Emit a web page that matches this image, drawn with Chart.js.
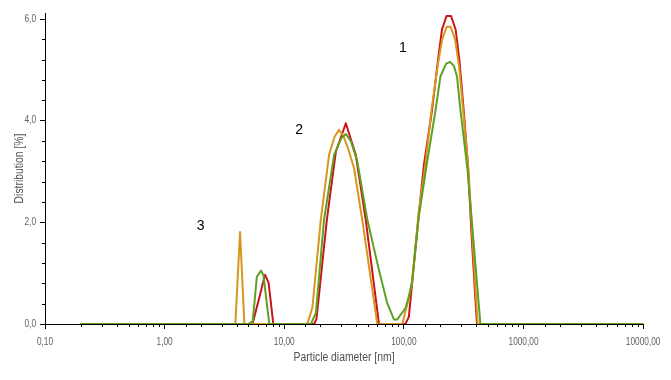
<!DOCTYPE html>
<html>
<head>
<meta charset="utf-8">
<script src="https://cdn.jsdelivr.net/npm/chart.js@4.4.1/dist/chart.umd.min.js"></script>
<style>
  html, body { margin: 0; padding: 0; background: #ffffff; }
  #wrap { width: 671px; height: 380px; }
</style>
</head>
<body>
<div id="wrap"><canvas id="c" width="671" height="380"></canvas></div>
<script>
// ---- Data ----
// Particle diameters [nm] and distribution [%] for each measurement
const diametersGreen = [0.2, 5.0, 5.45, 5.9, 6.4, 6.7, 7.5, 16.7, 18.4, 21.5, 26.1, 30.0, 32.7, 36.0, 40.8, 49.5, 61.9, 72.6, 82.5, 88.0, 103, 110, 117, 133, 155, 184, 202, 225, 242, 262, 278, 297, 340, 436, 10000];
const distributionGreen = [0, 0, 0.05, 0.93, 1.05, 0.96, 0, 0, 0.22, 2.05, 3.33, 3.66, 3.74, 3.60, 3.20, 2.05, 1.06, 0.41, 0.09, 0.09, 0.31, 0.54, 0.83, 2.10, 3.13, 4.21, 4.87, 5.12, 5.16, 5.08, 4.87, 4.21, 3.05, 0, 0];

const diametersOrange = [0.2, 3.9, 4.27, 4.64, 15.6, 17.2, 20.2, 23.7, 26.3, 28.7, 31.2, 34.2, 38.3, 44.9, 59.9, 97, 103, 110, 117, 133, 151, 171, 192, 209, 228, 246, 268, 290, 316, 345, 376, 414, 10000];
const distributionOrange = [0, 0, 1.81, 0, 0, 0.33, 2.05, 3.33, 3.68, 3.82, 3.70, 3.45, 3.07, 2.05, 0, 0, 0.25, 0.50, 0.83, 2.20, 3.13, 4.25, 5.10, 5.60, 5.85, 5.85, 5.60, 5.05, 4.10, 3.10, 1.60, 0, 0];

const diametersRed = [0.2, 5.0, 5.45, 6.16, 6.9, 7.4, 8.1, 17.8, 18.6, 22.7, 27.0, 32.7, 39.6, 48.0, 61.9, 103, 110, 121, 133, 147, 172, 193, 208, 227, 248, 271, 291, 316, 343, 370, 408, 10000];
const distributionRed = [0, 0, 0.02, 0.50, 0.97, 0.81, 0, 0, 0.10, 2.05, 3.39, 3.95, 3.33, 2.05, 0, 0, 0.14, 1.14, 2.13, 3.13, 4.21, 5.20, 5.79, 6.06, 6.06, 5.79, 5.20, 4.21, 3.13, 1.65, 0, 0];

const seriesNames = ['Measurement A', 'Measurement B', 'Measurement C'];
const xTickDecades = [0.1, 1, 10, 100, 1000, 10000];
const yTickValues = [0, 0.4, 0.8, 1.2, 1.6, 2.0, 2.4, 2.8, 3.2, 3.6, 4.0, 4.4, 4.8, 5.2, 5.6, 6.0];
const yTickLabelsAt = [0, 2, 4, 6];
const peakLabelText = ['1', '2', '3'];
const peakLabelDiameter = [98, 13.3, 2.0];
const peakLabelDistribution = [5.43, 3.82, 1.93];

// ---- Build ----
function pts(xs, ys) { return xs.map((x, i) => ({ x: x, y: ys[i] })); }
const isDecade = v => xTickDecades.some(d => Math.abs(v - d) / d < 1e-6);
const isYMajor = v => yTickLabelsAt.some(d => Math.abs(v - d) < 1e-6);
const FONT = "'Liberation Sans', Arial, sans-serif";
const CONDENSE = 0.83;

// Axis text in the reference is horizontally condensed; draw it narrower.
const condensedText = {
  id: 'condensedText',
  beforeDraw(chart) {
    const ctx = chart.ctx;
    if (ctx.__condensed) return;
    const orig = ctx.fillText.bind(ctx);
    ctx.fillText = function (text, x, y, maxWidth) {
      if (this.__plain) return orig(text, x, y);
      this.save();
      this.translate(x, y);
      this.scale(CONDENSE, 1);
      orig(text, 0, 0);
      this.restore();
    };
    ctx.__condensed = true;
  }
};

const minorTicks = {
  id: 'minorTicks',
  afterDraw(chart) {
    const ctx = chart.ctx;
    const xs = chart.scales.x, ys = chart.scales.y;
    ctx.save();
    ctx.strokeStyle = '#000';
    ctx.lineWidth = 1;
    ctx.beginPath();
    xs.ticks.forEach(t => {
      if (isDecade(t.value)) return;
      const px = Math.round(xs.getPixelForValue(t.value)) + 0.5;
      ctx.moveTo(px, xs.top);
      ctx.lineTo(px, xs.top + 3);
    });
    ys.ticks.forEach(t => {
      if (isYMajor(t.value)) return;
      const py = Math.round(ys.getPixelForValue(t.value)) + 0.5;
      ctx.moveTo(ys.right - 3, py);
      ctx.lineTo(ys.right, py);
    });
    ctx.stroke();
    ctx.restore();
  }
};

const peakLabels = {
  id: 'peakLabels',
  afterDatasetsDraw(chart) {
    const ctx = chart.ctx;
    const xs = chart.scales.x, ys = chart.scales.y;
    ctx.save();
    ctx.__plain = true;
    ctx.fillStyle = '#000';
    ctx.font = "14px 'Liberation Sans', 'Open Sans', sans-serif";
    ctx.textAlign = 'center';
    ctx.textBaseline = 'middle';
    peakLabelText.forEach((t, i) => {
      ctx.fillText(t, xs.getPixelForValue(peakLabelDiameter[i]), ys.getPixelForValue(peakLabelDistribution[i]));
    });
    ctx.__plain = false;
    ctx.restore();
  }
};

const lineStyle = { pointRadius: 0, borderWidth: 2, tension: 0, fill: false, borderJoinStyle: 'round', borderCapStyle: 'round' };

new Chart(document.getElementById('c'), {
  type: 'line',
  data: {
    datasets: [
      Object.assign({ label: seriesNames[0], data: pts(diametersGreen, distributionGreen), borderColor: '#5ea021' }, lineStyle),
      Object.assign({ label: seriesNames[1], data: pts(diametersOrange, distributionOrange), borderColor: '#d8961c' }, lineStyle),
      Object.assign({ label: seriesNames[2], data: pts(diametersRed, distributionRed), borderColor: '#c8141a' }, lineStyle)
    ]
  },
  options: {
    responsive: false,
    animation: false,
    devicePixelRatio: 1,
    layout: { padding: { left: 0, right: 26, top: 13, bottom: 0 } },
    plugins: { legend: { display: false }, tooltip: { enabled: false } },
    scales: {
      x: {
        type: 'logarithmic',
        min: 0.1,
        max: 10000,
        border: { display: true, color: '#000', width: 1 },
        grid: {
          display: true, drawOnChartArea: false, drawTicks: true, tickLength: 5,
          tickColor: c => (c.tick && isDecade(c.tick.value)) ? '#000' : 'rgba(0,0,0,0)'
        },
        ticks: {
          autoSkip: false, maxRotation: 0, minRotation: 0, padding: 7,
          color: '#5f5f5f', font: { family: FONT, size: 10 },
          callback: v => isDecade(v) ? v.toFixed(2).replace('.', ',') : ''
        },
        title: {
          display: true, text: 'Particle diameter [nm]', color: '#505050',
          font: { family: FONT, size: 12.5 }, padding: { top: 0, bottom: 15 }
        },
        afterFit: s => { s.height = 56; }
      },
      y: {
        type: 'linear',
        min: 0,
        max: 6.12,
        border: { display: true, color: '#000', width: 1 },
        grid: {
          display: true, drawOnChartArea: false, drawTicks: true, tickLength: 5,
          tickColor: c => (c.tick && isYMajor(c.tick.value)) ? '#000' : 'rgba(0,0,0,0)'
        },
        afterBuildTicks: s => { s.ticks = yTickValues.map(v => ({ value: v })); },
        ticks: {
          autoSkip: false, padding: 4,
          color: '#5f5f5f', font: { family: FONT, size: 10 },
          callback: v => isYMajor(v) ? v.toFixed(1).replace('.', ',') : ''
        },
        title: {
          display: true, text: 'Distribution [%]', color: '#505050',
          font: { family: FONT, size: 12.5 }, padding: { top: 12, bottom: 0 }
        },
        afterFit: s => { s.width = 45; }
      }
    }
  },
  plugins: [condensedText, minorTicks, peakLabels]
});
</script>
</body>
</html>
